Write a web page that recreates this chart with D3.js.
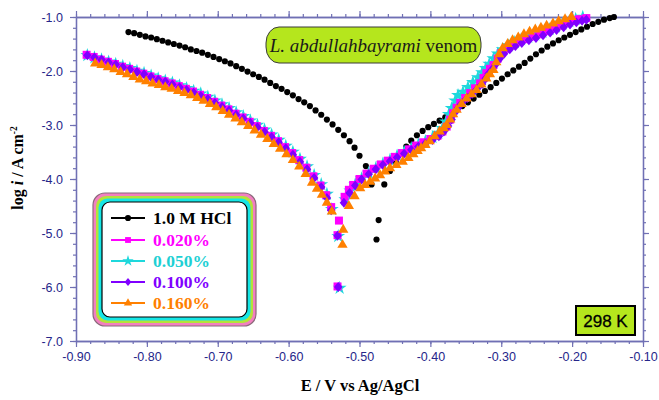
<!DOCTYPE html>
<html>
<head>
<meta charset="utf-8">
<script src="https://cdn.jsdelivr.net/npm/d3@7"></script>
<style>
  body { margin: 0; background: #fff; }
  svg { display: block; }
</style>
</head>
<body>
<svg id="chart" width="659" height="400"></svg>
<script>
// tick labels
const xTicks = [-0.90, -0.80, -0.70, -0.60, -0.50, -0.40, -0.30, -0.20, -0.10];
const yTicks = [-1.0, -2.0, -3.0, -4.0, -5.0, -6.0, -7.0];

// series: [E (V vs Ag/AgCl), log i]
const hcl = [
  [-0.826,-1.28],[-0.818,-1.30],[-0.810,-1.33],[-0.802,-1.36],[-0.794,-1.38],[-0.786,-1.41],
  [-0.778,-1.44],[-0.770,-1.47],[-0.762,-1.50],[-0.754,-1.53],[-0.746,-1.56],[-0.738,-1.60],
  [-0.730,-1.63],[-0.722,-1.66],[-0.714,-1.70],[-0.706,-1.74],[-0.698,-1.78],[-0.690,-1.82],
  [-0.682,-1.86],[-0.674,-1.91],[-0.666,-1.96],[-0.658,-2.01],[-0.650,-2.06],[-0.642,-2.11],
  [-0.634,-2.16],[-0.626,-2.22],[-0.618,-2.28],[-0.610,-2.33],[-0.602,-2.39],[-0.594,-2.45],
  [-0.586,-2.52],[-0.578,-2.58],[-0.570,-2.65],[-0.562,-2.73],[-0.554,-2.81],[-0.546,-2.90],
  [-0.538,-2.99],[-0.530,-3.09],[-0.522,-3.19],[-0.514,-3.30],[-0.507,-3.42],[-0.500,-3.57],
  [-0.491,-3.76],[-0.483,-4.10],[-0.473,-4.76],[-0.476,-5.12],
  [-0.465,-4.10],[-0.457,-3.85],[-0.449,-3.68],[-0.441,-3.52],[-0.434,-3.40],[-0.427,-3.29],
  [-0.419,-3.19],[-0.411,-3.11],[-0.403,-3.04],[-0.395,-2.98],[-0.387,-2.92],[-0.379,-2.86],
  [-0.371,-2.79],[-0.363,-2.72],[-0.355,-2.65],[-0.347,-2.58],[-0.339,-2.51],[-0.331,-2.44],
  [-0.323,-2.37],[-0.315,-2.30],[-0.307,-2.22],[-0.299,-2.14],[-0.291,-2.06],[-0.283,-1.99],
  [-0.275,-1.92],[-0.267,-1.85],[-0.259,-1.77],[-0.251,-1.69],[-0.243,-1.62],[-0.235,-1.55],
  [-0.227,-1.49],[-0.219,-1.43],[-0.211,-1.38],[-0.203,-1.33],[-0.195,-1.28],[-0.187,-1.23],
  [-0.179,-1.18],[-0.171,-1.13],[-0.163,-1.09],[-0.155,-1.05],[-0.147,-1.02],[-0.141,-1.00]
];

const p020 = [
  [-0.885,-1.70],[-0.875,-1.74],[-0.865,-1.79],[-0.855,-1.83],[-0.845,-1.87],[-0.835,-1.92],
  [-0.825,-1.96],[-0.815,-2.01],[-0.805,-2.05],[-0.795,-2.10],[-0.785,-2.15],[-0.775,-2.19],
  [-0.765,-2.23],[-0.755,-2.28],[-0.745,-2.33],[-0.735,-2.38],[-0.725,-2.44],[-0.715,-2.50],
  [-0.705,-2.57],[-0.695,-2.64],[-0.685,-2.71],[-0.675,-2.79],[-0.665,-2.86],[-0.655,-2.94],
  [-0.645,-3.02],[-0.635,-3.11],[-0.625,-3.20],[-0.615,-3.30],[-0.605,-3.41],[-0.595,-3.52],
  [-0.585,-3.65],[-0.575,-3.79],[-0.565,-3.95],[-0.555,-4.12],[-0.547,-4.30],[-0.540,-4.52],
  [-0.529,-4.77],[-0.531,-5.04],[-0.531,-5.99],
  [-0.521,-4.33],[-0.515,-4.20],[-0.509,-4.11],[-0.500,-4.00],[-0.490,-3.90],[-0.480,-3.81],
  [-0.470,-3.73],[-0.460,-3.66],[-0.450,-3.59],[-0.440,-3.52],[-0.430,-3.45],[-0.420,-3.38],
  [-0.410,-3.32],[-0.400,-3.26],[-0.390,-3.20],[-0.383,-3.12],[-0.377,-3.03],[-0.372,-2.90],
  [-0.368,-2.78],[-0.363,-2.68],[-0.358,-2.59],[-0.351,-2.50],[-0.344,-2.41],[-0.337,-2.32],
  [-0.330,-2.23],[-0.325,-2.13],[-0.321,-2.04],[-0.316,-1.96],[-0.311,-1.89],[-0.305,-1.77],
  [-0.300,-1.67],[-0.292,-1.59],[-0.284,-1.52],[-0.275,-1.46],[-0.265,-1.41],[-0.255,-1.36],
  [-0.245,-1.32],[-0.235,-1.26],[-0.227,-1.21],[-0.217,-1.16],[-0.208,-1.11],[-0.199,-1.06],
  [-0.190,-1.04],[-0.180,-1.02]
];

const p050 = [
  [-0.884,-1.71],[-0.874,-1.75],[-0.864,-1.79],[-0.854,-1.83],[-0.844,-1.87],[-0.834,-1.91],
  [-0.824,-1.95],[-0.814,-2.00],[-0.804,-2.04],[-0.794,-2.09],[-0.784,-2.14],[-0.774,-2.18],
  [-0.764,-2.22],[-0.754,-2.27],[-0.744,-2.32],[-0.734,-2.37],[-0.724,-2.42],[-0.714,-2.48],
  [-0.704,-2.55],[-0.694,-2.62],[-0.684,-2.69],[-0.674,-2.77],[-0.664,-2.84],[-0.654,-2.92],
  [-0.644,-3.00],[-0.634,-3.09],[-0.624,-3.18],[-0.614,-3.28],[-0.604,-3.39],[-0.594,-3.50],
  [-0.584,-3.63],[-0.574,-3.77],[-0.564,-3.93],[-0.554,-4.10],[-0.546,-4.28],[-0.539,-4.56],
  [-0.530,-5.06],[-0.528,-6.02],
  [-0.520,-4.38],[-0.513,-4.22],[-0.506,-4.10],[-0.497,-3.99],[-0.487,-3.89],[-0.477,-3.80],
  [-0.467,-3.72],[-0.457,-3.65],[-0.447,-3.57],[-0.437,-3.50],[-0.427,-3.43],[-0.417,-3.36],
  [-0.407,-3.30],[-0.397,-3.23],[-0.389,-3.15],[-0.383,-3.06],[-0.378,-2.94],[-0.374,-2.80],
  [-0.370,-2.69],[-0.365,-2.55],[-0.361,-2.45],[-0.354,-2.39],[-0.347,-2.30],[-0.340,-2.21],
  [-0.333,-2.12],[-0.327,-2.03],[-0.322,-1.95],[-0.317,-1.87],[-0.311,-1.77],[-0.305,-1.68],
  [-0.298,-1.60],[-0.290,-1.53],[-0.281,-1.47],[-0.272,-1.42],[-0.262,-1.37],[-0.252,-1.33],
  [-0.242,-1.28],[-0.232,-1.23],[-0.223,-1.18],[-0.214,-1.13],[-0.204,-1.08],[-0.195,-1.04],
  [-0.185,-1.00]
];

const p100 = [
  [-0.884,-1.71],[-0.874,-1.75],[-0.864,-1.79],[-0.854,-1.84],[-0.844,-1.88],[-0.834,-1.93],
  [-0.824,-1.97],[-0.814,-2.02],[-0.804,-2.06],[-0.794,-2.11],[-0.784,-2.16],[-0.774,-2.20],
  [-0.764,-2.25],[-0.754,-2.30],[-0.744,-2.35],[-0.734,-2.40],[-0.724,-2.46],[-0.714,-2.52],
  [-0.704,-2.59],[-0.694,-2.66],[-0.684,-2.73],[-0.674,-2.81],[-0.664,-2.88],[-0.654,-2.96],
  [-0.644,-3.04],[-0.634,-3.13],[-0.624,-3.22],[-0.614,-3.32],[-0.604,-3.43],[-0.594,-3.55],
  [-0.584,-3.68],[-0.574,-3.82],[-0.564,-3.98],[-0.554,-4.15],[-0.546,-4.35],[-0.540,-4.58],
  [-0.531,-5.05],[-0.530,-6.00],
  [-0.522,-4.44],[-0.514,-4.26],[-0.506,-4.12],[-0.497,-4.01],[-0.487,-3.91],[-0.477,-3.82],
  [-0.467,-3.74],[-0.457,-3.67],[-0.447,-3.60],[-0.437,-3.53],[-0.427,-3.46],[-0.417,-3.40],
  [-0.407,-3.34],[-0.397,-3.28],[-0.388,-3.21],[-0.381,-3.12],[-0.375,-3.02],[-0.370,-2.90],
  [-0.366,-2.78],[-0.361,-2.68],[-0.355,-2.59],[-0.348,-2.50],[-0.341,-2.42],[-0.334,-2.33],
  [-0.327,-2.24],[-0.322,-2.14],[-0.318,-2.05],[-0.313,-1.97],[-0.308,-1.88],[-0.302,-1.77],
  [-0.296,-1.68],[-0.288,-1.60],[-0.280,-1.54],[-0.271,-1.48],[-0.261,-1.43],[-0.251,-1.39],
  [-0.241,-1.34],[-0.231,-1.29],[-0.222,-1.24],[-0.212,-1.19],[-0.203,-1.14],[-0.194,-1.10],
  [-0.186,-1.07],[-0.180,-1.05]
];

const p160 = [
  [-0.873,-1.86],[-0.864,-1.89],[-0.855,-1.93],[-0.846,-1.97],[-0.837,-2.02],[-0.828,-2.06],
  [-0.819,-2.11],[-0.810,-2.16],[-0.801,-2.19],[-0.792,-2.23],[-0.783,-2.26],[-0.774,-2.30],
  [-0.765,-2.33],[-0.756,-2.37],[-0.747,-2.41],[-0.738,-2.45],[-0.729,-2.50],[-0.720,-2.55],
  [-0.711,-2.61],[-0.702,-2.67],[-0.693,-2.74],[-0.684,-2.81],[-0.675,-2.88],[-0.666,-2.95],
  [-0.657,-3.02],[-0.648,-3.10],[-0.639,-3.18],[-0.630,-3.26],[-0.621,-3.35],[-0.612,-3.44],
  [-0.603,-3.54],[-0.594,-3.65],[-0.585,-3.77],[-0.576,-3.91],[-0.567,-4.07],[-0.560,-4.18],
  [-0.553,-4.29],[-0.546,-4.44],[-0.539,-4.60],[-0.523,-4.94],[-0.524,-5.22],
  [-0.515,-4.50],[-0.507,-4.32],[-0.499,-4.17],[-0.492,-4.11],[-0.485,-4.05],[-0.478,-3.99],
  [-0.471,-3.93],[-0.464,-3.86],[-0.457,-3.80],[-0.448,-3.74],[-0.439,-3.68],[-0.431,-3.61],
  [-0.424,-3.54],[-0.418,-3.48],[-0.413,-3.43],[-0.407,-3.37],[-0.401,-3.30],[-0.394,-3.21],
  [-0.387,-3.12],[-0.381,-3.06],[-0.377,-3.00],[-0.372,-2.90],[-0.368,-2.80],[-0.363,-2.72],
  [-0.356,-2.61],[-0.349,-2.51],[-0.342,-2.43],[-0.335,-2.35],[-0.328,-2.25],[-0.321,-2.14],
  [-0.316,-2.06],[-0.311,-1.98],[-0.307,-1.84],[-0.303,-1.69],[-0.298,-1.58],[-0.291,-1.50],
  [-0.284,-1.43],[-0.276,-1.38],[-0.268,-1.32],[-0.260,-1.27],[-0.252,-1.23],[-0.244,-1.20],
  [-0.236,-1.16],[-0.227,-1.12],[-0.219,-1.08],[-0.210,-1.04],[-0.201,-1.00]
];

const seriesNames = ["1.0 M HCl", "0.020%", "0.050%", "0.100%", "0.160%"];
const seriesColors = ["#000000", "#ff00ff", "#1ed8dc", "#8000ff", "#ff8000"];

const svg = d3.select("#chart");
const x = d3.scaleLinear().domain([-0.90, -0.10]).range([76, 643]);
const y = d3.scaleLinear().domain([-7.0, -1.0]).range([341, 17]);

const axisCol = "#7070b4";
const labelCol = "#26268a";
const sans = "'Liberation Sans', Arial, sans-serif";
const serif = "'Liberation Serif', 'Times New Roman', serif";

// minor ticks every 0.02 V and 0.2 decades
const xMinor = d3.range(-0.90, -0.099, 0.02).map(v => +v.toFixed(2));
const yMinor = d3.range(-7.0, -0.99, 0.2).map(v => +v.toFixed(1));

function styleAxis(g) {
  g.select(".domain").attr("stroke", axisCol).attr("stroke-width", 1.3);
  g.selectAll(".tick line").attr("stroke", axisCol).attr("stroke-width", 1.2);
  g.selectAll(".tick text").attr("fill", labelCol)
    .style("font-family", sans).style("font-size", "12.5px");
}

// bottom
svg.append("g").attr("transform", "translate(0,341)")
  .call(d3.axisBottom(x).tickValues(xMinor).tickSize(3).tickSizeOuter(0).tickFormat(""))
  .call(styleAxis);
svg.append("g").attr("transform", "translate(0,341)")
  .call(d3.axisBottom(x).tickValues(xTicks).tickSize(6).tickSizeOuter(0).tickPadding(5)
    .tickFormat(d => d.toFixed(2)))
  .call(styleAxis);
// top
svg.append("g").attr("transform", "translate(0,17)")
  .call(d3.axisTop(x).tickValues(xMinor).tickSize(3).tickSizeOuter(0).tickFormat(""))
  .call(styleAxis);
svg.append("g").attr("transform", "translate(0,17)")
  .call(d3.axisTop(x).tickValues(xTicks).tickSize(6).tickSizeOuter(0).tickFormat(""))
  .call(styleAxis);
// left
svg.append("g").attr("transform", "translate(76,0)")
  .call(d3.axisLeft(y).tickValues(yMinor).tickSize(3).tickSizeOuter(0).tickFormat(""))
  .call(styleAxis);
svg.append("g").attr("transform", "translate(76,0)")
  .call(d3.axisLeft(y).tickValues(yTicks).tickSize(6).tickSizeOuter(0).tickPadding(7)
    .tickFormat(d => d.toFixed(1)))
  .call(styleAxis);
// right
svg.append("g").attr("transform", "translate(643,0)")
  .call(d3.axisRight(y).tickValues(yMinor).tickSize(3).tickSizeOuter(0).tickFormat(""))
  .call(styleAxis);
svg.append("g").attr("transform", "translate(643,0)")
  .call(d3.axisRight(y).tickValues(yTicks).tickSize(6).tickSizeOuter(0).tickFormat(""))
  .call(styleAxis);

// marker shapes
const diamond = {
  draw(ctx, size) {
    const h = Math.sqrt(size) * 0.62, w = h * 0.85;
    ctx.moveTo(0, -h); ctx.lineTo(w, 0); ctx.lineTo(0, h); ctx.lineTo(-w, 0); ctx.closePath();
  }
};
const shapes = [
  d3.symbol(d3.symbolCircle, 30),
  d3.symbol(d3.symbolSquare, 64),
  d3.symbol(d3.symbolStar, 60),
  d3.symbol(diamond, 64),
  d3.symbol(d3.symbolTriangle, 46)
];
const legendShapes = [
  d3.symbol(d3.symbolCircle, 30),
  d3.symbol(d3.symbolSquare, 34),
  d3.symbol(d3.symbolStar, 40),
  d3.symbol(diamond, 40),
  d3.symbol(d3.symbolTriangle, 30)
];

// drawing order: HCl, 0.050%, 0.020%, 0.100%, 0.160% (orange on top)
const allSeries = [hcl, p020, p050, p100, p160];
const drawOrder = [0, 2, 1, 3, 4];
drawOrder.forEach(i => {
  svg.append("g")
    .selectAll("path")
    .data(allSeries[i])
    .enter()
    .append("path")
    .attr("d", shapes[i])
    .attr("transform", d => `translate(${x(d[0])},${y(d[1])})`)
    .attr("fill", seriesColors[i]);
});

// title badge
svg.append("rect")
  .attr("x", 266).attr("y", 27).attr("width", 215).attr("height", 36)
  .attr("rx", 13).attr("ry", 16)
  .attr("fill", "#b5e61d").attr("stroke", "#3a3a3a").attr("stroke-width", 1);
const title = svg.append("text")
  .attr("x", 373.5).attr("y", 51.5).attr("text-anchor", "middle")
  .style("font-family", serif).style("font-size", "19px").attr("fill", "#1a1a1a");
title.append("tspan").style("font-style", "italic").text("L. abdullahbayrami");
title.append("tspan").text(" venom");

// temperature badge
svg.append("rect")
  .attr("x", 576).attr("y", 306).attr("width", 59).attr("height", 29)
  .attr("fill", "#b5e61d").attr("stroke", "#000").attr("stroke-width", 2);
svg.append("text")
  .attr("x", 605.5).attr("y", 327).attr("text-anchor", "middle")
  .style("font-family", sans).style("font-size", "17px").attr("fill", "#000")
  .attr("stroke", "#000").attr("stroke-width", 0.3)
  .text("298 K");

// legend with layered frame
const lg = svg.append("g");
const frames = [
  { inset: 0, fill: "#f27fc0", stroke: "#8a6a7a", rx: 12 },
  { inset: 3, fill: "#b3e23a", stroke: "none", rx: 10 },
  { inset: 5.5, fill: "#16e6e6", stroke: "none", rx: 9 },
  { inset: 9, fill: "#ffffff", stroke: "#000", rx: 8 }
];
frames.forEach(f => {
  lg.append("rect")
    .attr("x", 93 + f.inset).attr("y", 193 + f.inset)
    .attr("width", 163 - 2 * f.inset).attr("height", 133 - 2 * f.inset)
    .attr("rx", f.rx)
    .attr("fill", f.fill).attr("stroke", f.stroke).attr("stroke-width", 1.2);
});
const legendRows = [218, 240, 261, 282, 303];
seriesNames.forEach((name, i) => {
  const ly = legendRows[i];
  lg.append("line")
    .attr("x1", 111).attr("x2", 145).attr("y1", ly).attr("y2", ly)
    .attr("stroke", seriesColors[i]).attr("stroke-width", 2);
  lg.append("path").attr("d", legendShapes[i])
    .attr("transform", `translate(128,${ly})`).attr("fill", seriesColors[i]);
  lg.append("text")
    .attr("x", 153).attr("y", ly + 6)
    .style("font-family", serif).style("font-size", "17.5px").style("font-weight", "bold")
    .attr("fill", seriesColors[i] === "#1ed8dc" ? "#1ed0d4" : seriesColors[i])
    .text(name);
});

// axis titles
svg.append("text")
  .attr("x", 360).attr("y", 391).attr("text-anchor", "middle")
  .style("font-family", serif).style("font-size", "16.5px").style("font-weight", "bold")
  .text("E / V vs Ag/AgCl");

const yt = svg.append("text")
  .attr("transform", "translate(23,168) rotate(-90)")
  .attr("text-anchor", "middle")
  .style("font-family", serif).style("font-size", "16px").style("font-weight", "bold");
yt.append("tspan").text("log ");
yt.append("tspan").style("font-style", "italic").text("i");
yt.append("tspan").text(" / A cm");
yt.append("tspan").attr("dy", -6).style("font-size", "9.5px").text("-2");
</script>
</body>
</html>
